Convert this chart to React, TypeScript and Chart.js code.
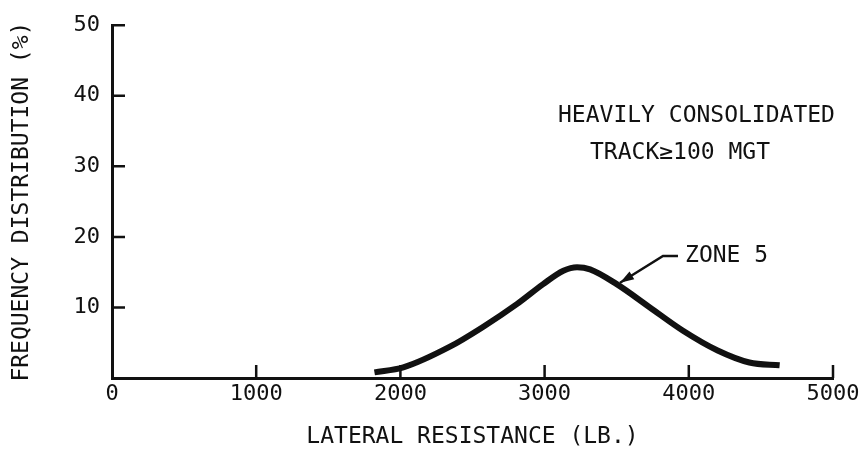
import React, { useEffect, useRef } from 'react';
import { Chart, registerables } from 'chart.js';

Chart.register(...registerables);

// Data (Zone 5)
const resistance = [1820, 2020, 2340, 2570, 2810, 2990, 3130, 3225, 3315, 3500, 3730, 3960, 4200, 4420, 4630];
const frequency = [0.8, 1.5, 4.4, 7.2, 10.5, 13.3, 15.2, 15.7, 15.4, 13.3, 10.0, 6.7, 3.9, 2.2, 1.8];

const xTickValues = [0, 1000, 2000, 3000, 4000, 5000];
const yTickValues = [0, 10, 20, 30, 40, 50];

const xTitle = 'LATERAL RESISTANCE (LB.)';
const yTitle = 'FREQUENCY DISTRIBUTION (%)';
const noteLines = ['HEAVILY CONSOLIDATED', 'TRACK≥100 MGT'];
const seriesLabel = 'ZONE 5';

const FONT = '"DejaVu Sans Mono", monospace';
const INK = '#111';

const annotationPlugin = {
  id: 'annotations',
  afterDraw(chart: any) {
    const { ctx, chartArea, scales } = chart;
    const x = scales.x;
    const y = scales.y;
    ctx.save();
    ctx.strokeStyle = INK;
    ctx.fillStyle = INK;
    ctx.lineWidth = 2.5;
    ctx.lineCap = 'butt';
    // inward tick marks
    ctx.beginPath();
    for (const v of yTickValues) {
      if (v === 0) continue;
      const py = y.getPixelForValue(v);
      ctx.moveTo(chartArea.left, py);
      ctx.lineTo(chartArea.left + 13, py);
    }
    for (const v of xTickValues) {
      if (v === 0) continue;
      const px = x.getPixelForValue(v);
      ctx.moveTo(px, chartArea.bottom);
      ctx.lineTo(px, chartArea.bottom - 13);
    }
    ctx.stroke();

    // note text
    ctx.font = `23px ${FONT}`;
    ctx.textAlign = 'left';
    ctx.textBaseline = 'middle';
    ctx.fillText(noteLines[0], x.getPixelForValue(3093), y.getPixelForValue(37.1));
    ctx.fillText(noteLines[1], x.getPixelForValue(3315), y.getPixelForValue(31.9));

    // series label with leader arrow
    ctx.fillText(seriesLabel, x.getPixelForValue(3974), y.getPixelForValue(17.3));
    const sx = x.getPixelForValue(3925);
    const ex = x.getPixelForValue(3821);
    const ey = y.getPixelForValue(17.3);
    const tx = x.getPixelForValue(3523);
    const ty = y.getPixelForValue(13.5);
    ctx.beginPath();
    ctx.moveTo(sx, ey);
    ctx.lineTo(ex, ey);
    ctx.lineTo(tx, ty);
    ctx.stroke();
    const ang = Math.atan2(ty - ey, tx - ex);
    const len = 14;
    const half = 4.5;
    const bx = tx - len * Math.cos(ang);
    const by = ty - len * Math.sin(ang);
    ctx.beginPath();
    ctx.moveTo(tx, ty);
    ctx.lineTo(bx + half * Math.sin(ang), by - half * Math.cos(ang));
    ctx.lineTo(bx - half * Math.sin(ang), by + half * Math.cos(ang));
    ctx.closePath();
    ctx.fill();
    ctx.restore();
  },
};

export default function App() {
  const canvasRef = useRef<HTMLCanvasElement | null>(null);

  useEffect(() => {
    if (!canvasRef.current) return;
    const points = resistance.map((r, i) => ({ x: r, y: frequency[i] }));
    const chart = new Chart(canvasRef.current, {
      type: 'line',
      data: {
        datasets: [
          {
            label: seriesLabel,
            data: points,
            borderColor: INK,
            borderWidth: 6,
            pointRadius: 0,
            tension: 0.4,
            cubicInterpolationMode: 'monotone',
            fill: false,
            borderCapStyle: 'butt',
          },
        ],
      },
      options: {
        responsive: false,
        animation: false,
        layout: { padding: { left: 0, top: 22, right: 32, bottom: 0 } },
        plugins: {
          legend: { display: false },
          tooltip: { enabled: false },
        },
        scales: {
          x: {
            type: 'linear',
            min: 0,
            max: 5000,
            afterBuildTicks: (scale: any) => {
              scale.ticks = xTickValues.map((v) => ({ value: v }));
            },
            afterFit: (scale: any) => {
              scale.height = 80;
            },
            ticks: {
              color: INK,
              font: { family: FONT, size: 22 },
              padding: 3,
              maxRotation: 0,
              autoSkip: false,
              callback: (v: any) => String(v),
            },
            grid: { drawOnChartArea: false, drawTicks: false },
            border: { display: true, width: 3, color: INK },
            title: {
              display: true,
              text: xTitle,
              color: INK,
              font: { family: FONT, size: 23, lineHeight: 1 },
              padding: { top: 0, bottom: 9 },
            },
          },
          y: {
            type: 'linear',
            min: 0,
            max: 50,
            afterBuildTicks: (scale: any) => {
              scale.ticks = yTickValues.map((v) => ({ value: v }));
            },
            afterFit: (scale: any) => {
              scale.width = 112;
            },
            ticks: {
              color: INK,
              font: { family: FONT, size: 22 },
              padding: 12,
              autoSkip: false,
              callback: (v: any) => (v === 0 ? '' : String(v)),
            },
            grid: { drawOnChartArea: false, drawTicks: false },
            border: { display: true, width: 3, color: INK },
            title: {
              display: true,
              text: yTitle,
              color: INK,
              font: { family: FONT, size: 23, lineHeight: 1 },
              padding: { top: 11, bottom: 0 },
            },
          },
        },
      },
      plugins: [annotationPlugin],
    } as any);
    return () => chart.destroy();
  }, []);

  return (
    <div style={{ position: 'fixed', left: 0, top: 0, width: 865, height: 458, background: '#fff' }}>
      <canvas ref={canvasRef} width={865} height={458} style={{ display: 'block' }} />
    </div>
  );
}
